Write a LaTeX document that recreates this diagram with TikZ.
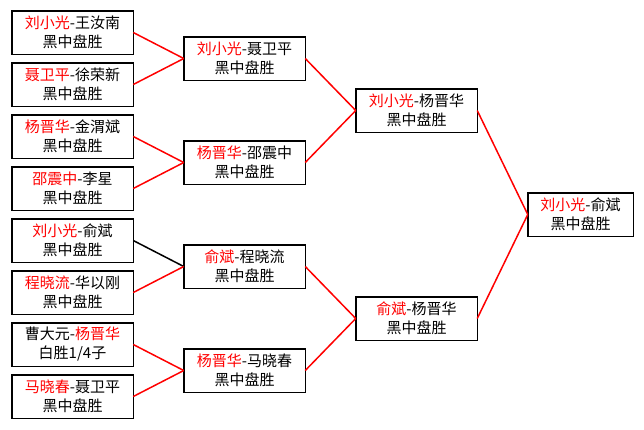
\documentclass[tikz,border=0pt]{standalone}
\usepackage{fontspec}
\newfontfamily\cjk{Noto Sans CJK SC}
\usepackage{xcolor}
\usetikzlibrary{positioning,calc}

\newcommand{\win}[1]{\textcolor{red}{#1}}

\begin{document}
\begin{tikzpicture}[
  x=1pt, y=-1pt,
  node distance=8.5pt and 50.5pt,
  box/.style={rectangle, draw, line width=1.5pt, outer sep=0pt, minimum width=121.5pt, minimum height=43.5pt, inner sep=0pt, align=center, font=\cjk\fontsize{15}{19}\selectfont},
  link/.style={red, line width=1.5pt}
]
\useasboundingbox (0,0) rectangle (644,429);

% first round
\node[box] (liuwang) at (72.5,32.5) {\win{刘小光}-王汝南\\黑中盘胜};
\node[box, below=of liuwang] (niexu) {\win{聂卫平}-徐荣新\\黑中盘胜};
\node[box, below=of niexu] (yangjin) {\win{杨晋华}-金渭斌\\黑中盘胜};
\node[box, below=of yangjin] (shaoli) {\win{邵震中}-李星\\黑中盘胜};
\node[box, below=of shaoli] (liuyu) {\win{刘小光}-俞斌\\黑中盘胜};
\node[box, below=of liuyu] (chenghua) {\win{程晓流}-华以刚\\黑中盘胜};
\node[box, below=of chenghua] (caoyang) {曹大元-\win{杨晋华}\\白胜1/4子};
\node[box, below=of caoyang] (manie) {\win{马晓春}-聂卫平\\黑中盘胜};

% second round
\coordinate (m1) at ($(liuwang.east)!0.5!(niexu.east)$);
\coordinate (m2) at ($(yangjin.east)!0.5!(shaoli.east)$);
\coordinate (m3) at ($(liuyu.east)!0.5!(chenghua.east)$);
\coordinate (m4) at ($(caoyang.east)!0.5!(manie.east)$);
\node[box, right=of m1] (liunie) {\win{刘小光}-聂卫平\\黑中盘胜};
\node[box, right=of m2] (yangshao) {\win{杨晋华}-邵震中\\黑中盘胜};
\node[box, right=of m3] (yucheng) {\win{俞斌}-程晓流\\黑中盘胜};
\node[box, right=of m4] (yangma) {\win{杨晋华}-马晓春\\黑中盘胜};

% semifinal and final
\coordinate (s1) at ($(liunie.east)!0.5!(yangshao.east)$);
\coordinate (s2) at ($(yucheng.east)!0.5!(yangma.east)$);
\node[box, right=of s1] (liuyang) {\win{刘小光}-杨晋华\\黑中盘胜};
\node[box, right=of s2] (yuyang) {\win{俞斌}-杨晋华\\黑中盘胜};
\coordinate (f) at ($(liuyang.east)!0.5!(yuyang.east)$);
\node[box, minimum width=105.5pt, right=of f] (final) {\win{刘小光}-俞斌\\黑中盘胜};

\draw[link] (liuwang.east) -- (liunie.west);
\draw[link] (niexu.east) -- (liunie.west);
\draw[link] (yangjin.east) -- (yangshao.west);
\draw[link] (shaoli.east) -- (yangshao.west);
\draw[link, black] (liuyu.east) -- (yucheng.west);
\draw[link] (chenghua.east) -- (yucheng.west);
\draw[link] (caoyang.east) -- (yangma.west);
\draw[link] (manie.east) -- (yangma.west);
\draw[link] (liunie.east) -- (liuyang.west);
\draw[link] (yangshao.east) -- (liuyang.west);
\draw[link] (yucheng.east) -- (yuyang.west);
\draw[link] (yangma.east) -- (yuyang.west);
\draw[link] (liuyang.east) -- (final.west);
\draw[link] (yuyang.east) -- (final.west);

\end{tikzpicture}
\end{document}
